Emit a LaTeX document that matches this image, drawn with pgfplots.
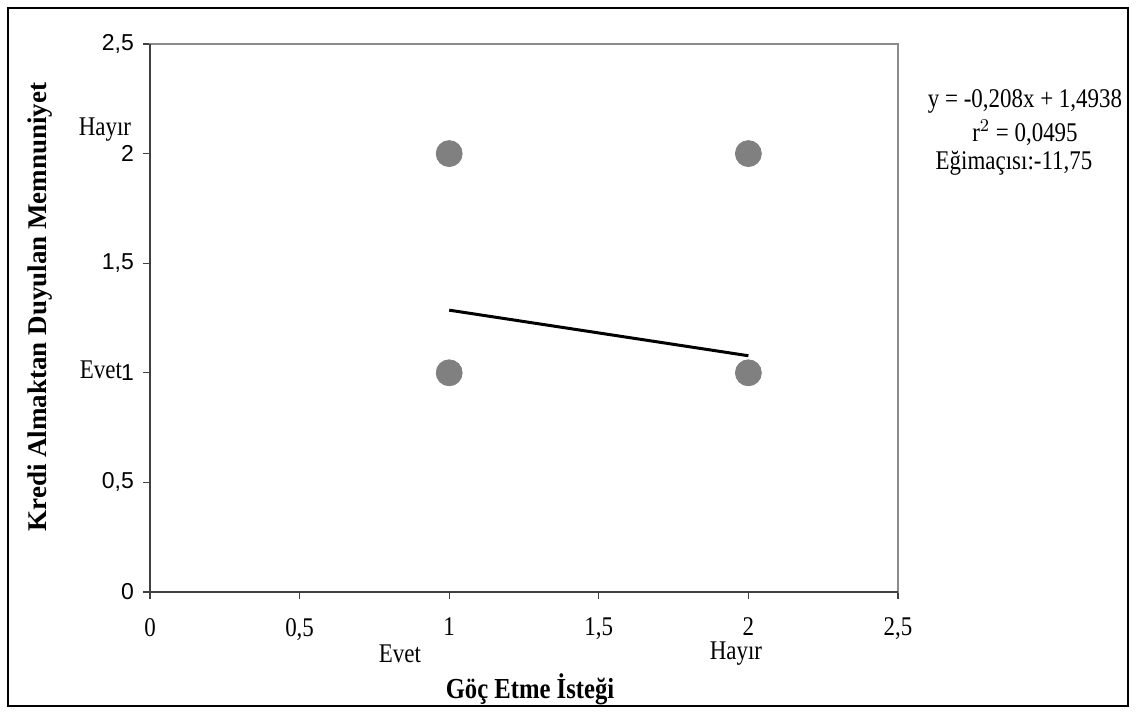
\documentclass[border=0pt]{standalone}
\usepackage{fontspec}
\setmainfont{Liberation Serif}
\newfontfamily\cond[FakeStretch=0.85]{Liberation Serif}
\newfontfamily\sansf{Liberation Sans}
\usepackage{pgfplots}
\pgfplotsset{compat=1.18}
\definecolor{dotgray}{HTML}{808080}
\definecolor{framegray}{HTML}{8C8C8C}
\definecolor{axdark}{HTML}{404040}
\begin{document}
\begin{tikzpicture}[x=0.5pt,y=0.5pt]
\fill[white] (0,0) rectangle (1136,714);
\draw[black, line width=1pt] (8,8) rectangle (1128,706);
\begin{axis}[
  at={(75pt,61pt)}, anchor=south west,
  scale only axis, width=374pt, height=274pt,
  xmin=0, xmax=2.5, ymin=0, ymax=2.5,
  xtick={0,0.5,1,1.5,2,2.5}, ytick={0,0.5,1,1.5,2,2.5},
  /pgf/number format/use comma,
  /pgf/number format/assume math mode=true,
  axis line style={framegray, line width=0.7pt},
  tick align=outside, major tick length=3.5pt,
  tick style={axdark, line width=0.6pt},
  xtick pos=bottom, ytick pos=left,
  xticklabel style={font=\cond\fontsize{13.5}{16}\selectfont, yshift=-6pt},
  yticklabel style={font=\sansf\fontsize{11.5}{13}\selectfont, xshift=-1pt},
  clip=false,
]
\draw[axdark, line width=0.8pt] (axis cs:0,2.5) -- (axis cs:0,0) -- (axis cs:2.5,0);
\addplot[only marks, mark=*, mark size=6.5pt, mark options={fill=dotgray, draw=dotgray}]
  coordinates {(1,1) (1,2) (2,1) (2,2)};
\addplot[black, line width=1.5pt] coordinates {(1,1.2858) (2,1.0778)};
\end{axis}
\begin{scope}[every node/.style={font=\cond\fontsize{13.5}{16}\selectfont, inner sep=0pt}]
\node at (1025,613) {y = -0,208x + 1,4938};
\node at (1025,581) {r$^{2}$ = 0,0495};
\node at (1014,551) {Eğimaçısı:-11,75};
\node at (400,60) {Evet};
\node at (736,60) {Hayır};
\node at (105,584) {Hayır};
\node at (101,344) {Evet};
\node[font=\cond\bfseries\fontsize{14.5}{17}\selectfont] at (530,25) {Göç Etme İsteği};
\node[font=\bfseries\fontsize{13.5}{16}\selectfont, rotate=90] at (40,407) {Kredi Almaktan Duyulan Memnuniyet};
\end{scope}
\end{tikzpicture}
\end{document}
